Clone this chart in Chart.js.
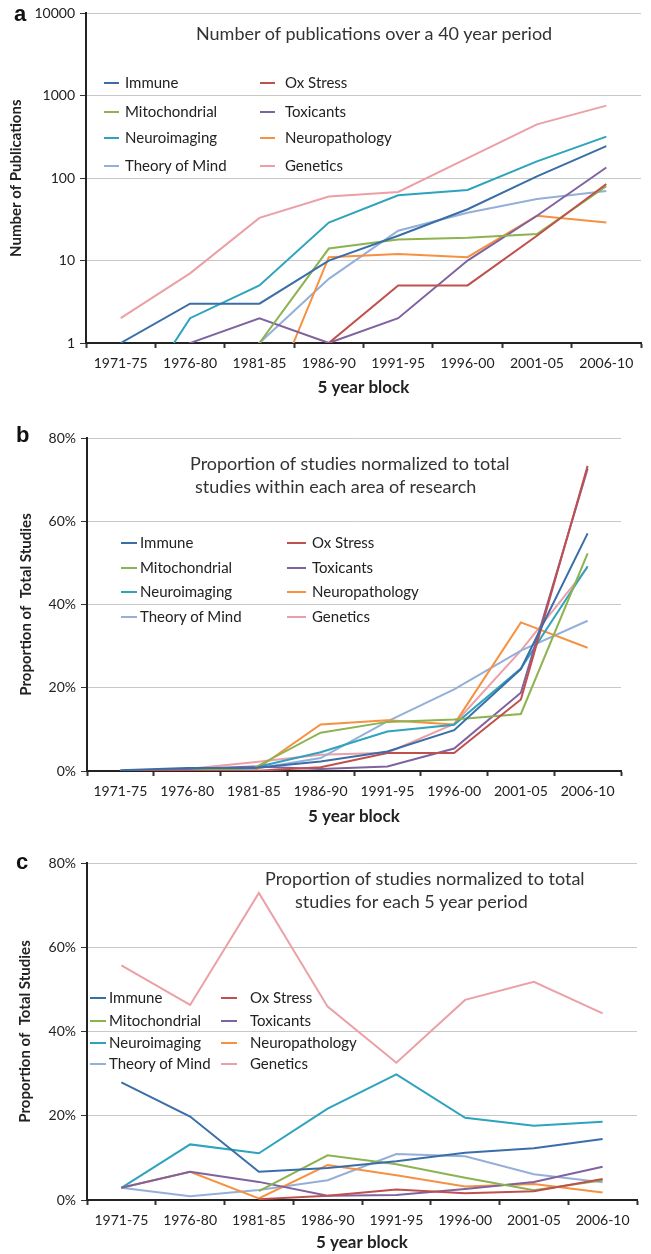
<!DOCTYPE html>
<html>
<head>
<meta charset="utf-8">
<script src="https://cdn.jsdelivr.net/npm/chart.js@4.4.1/dist/chart.umd.min.js"></script>
<style>
  body { margin: 0; background: #fff; }
  #page { position: relative; width: 651px; height: 1254px; overflow: hidden; font-family: Lato, "Open Sans", sans-serif; color: #333; }
  canvas { position: absolute; left: 0; }
  .letter { position: absolute; font: bold 22px "Liberation Sans", Arial, sans-serif; color: #111; line-height: 1; }
  .title { position: absolute; font-size: 18px; white-space: pre; line-height: 1; color: #333; }
  .item { position: absolute; white-space: nowrap; font-size: 15px; line-height: 1; color: #222; }
  .mark { position: absolute; height: 2px; }
</style>
</head>
<body>
<div id="page">
  <canvas id="chartA" width="651" height="400" style="top:0"></canvas>
  <canvas id="chartB" width="651" height="430" style="top:400px"></canvas>
  <canvas id="chartC" width="651" height="424" style="top:830px"></canvas>
</div>
<script>
// categories (5 year blocks)
const blocks = ["1971-75", "1976-80", "1981-85", "1986-90", "1991-95", "1996-00", "2001-05", "2006-10"];
const names = ["Immune", "Ox Stress", "Mitochondrial", "Toxicants", "Neuroimaging", "Neuropathology", "Theory of Mind", "Genetics"];
const colors = ["#3a6ea8", "#c0504d", "#8db350", "#7f62a0", "#2ea3bd", "#f59140", "#94afd8", "#eba0a6"];

// a - number of publications (log scale)
const immuneA = [1, 3, 3, 10, 20, 42, 105, 245];
const oxStressA = [0, 0, 0, 1, 5, 5, 20, 85];
const mitoA = [0, 0, 1, 14, 18, 19, 21, 80];
const toxicantsA = [0, 1, 2, 1, 2, 10, 35, 135];
const neuroimagingA = [0, 2, 5, 29, 62, 72, 160, 320];
const neuropathA = [0, 0, 0, 11, 12, 11, 35, 29];
const theoryA = [0, 0, 1, 6, 23, 38, 56, 70];
const geneticsA = [2, 7, 33, 60, 68, 175, 450, 760];
const logTicks = [1, 10, 100, 1000, 10000];

// b - % of studies within each area
const immuneB = [0.2, 0.7, 0.7, 2.3, 4.7, 9.8, 24.5, 57.1];
const oxStressB = [0, 0, 0, 0.9, 4.3, 4.3, 17.2, 73.3];
const mitoB = [0, 0, 0.7, 9.2, 11.8, 12.4, 13.7, 52.3];
const toxicantsB = [0, 0.5, 1.1, 0.5, 1.1, 5.4, 18.8, 72.6];
const neuroimagingB = [0, 0.3, 0.8, 4.5, 9.5, 11.1, 24.6, 49.2];
const neuropathB = [0, 0, 0, 11.2, 12.2, 11.2, 35.7, 29.6];
const theoryB = [0, 0, 0.5, 3.1, 11.9, 19.6, 28.9, 36.1];
const geneticsB = [0.1, 0.5, 2.1, 3.9, 4.4, 11.3, 28.9, 48.9];

// c - % of studies for each 5 year period
const immuneC = [27.9, 19.8, 6.7, 7.6, 9.2, 11.2, 12.3, 14.5];
const oxStressC = [null, null, 0.2, 1.0, 2.5, 1.6, 2.1, 5.0];
const mitoC = [null, null, 2.1, 10.6, 8.5, 5.3, 2.3, 4.7];
const toxicantsC = [2.9, 6.7, 4.3, 1.0, 1.2, 2.6, 4.3, 7.9];
const neuroimagingC = [2.9, 13.2, 11.1, 21.7, 29.8, 19.5, 17.6, 18.6];
const neuropathC = [2.9, 6.7, 0.4, 8.3, 5.9, 3.2, 3.8, 1.8];
const theoryC = [2.9, 0.9, 2.4, 4.7, 10.9, 10.4, 6.1, 4.2];
const geneticsC = [55.7, 46.3, 72.9, 45.9, 32.6, 47.5, 51.8, 44.3];
const pctTicks = [0, 20, 40, 60, 80];

// zero counts can't sit on a log axis, push them under the axis like excel does
const LOG_FLOOR = 0.1;

function datasets(series) {
  return series.map(function (vals, i) {
    return {
      label: names[i],
      data: vals,
      borderColor: colors[i],
      backgroundColor: colors[i],
      borderWidth: 2,
      pointRadius: 0,
      tension: 0,
    };
  });
}

const tickFont = { family: "Lato", size: 14 };
const axisTitleFont = { family: "Lato", size: 15, weight: "bold" };

function makeChart(id, series, yScale, box) {
  return new Chart(document.getElementById(id), {
    type: "line",
    data: { labels: blocks, datasets: datasets(series) },
    options: {
      responsive: false,
      animation: false,
      layout: { padding: { top: box.top, right: 651 - box.right, left: 0, bottom: 0 } },
      plugins: { legend: { display: false }, tooltip: { enabled: false } },
      scales: {
        x: {
          offset: true,
          grid: { offset: true, drawOnChartArea: false, tickLength: 5, tickColor: "#333", tickWidth: 2 },
          border: { color: "#222", width: 2 },
          ticks: { color: "#222", font: tickFont, padding: 7, maxRotation: 0, autoSkip: false },
          title: { display: true, text: "5 year block", color: "#222", font: { family: "Lato", size: 17, weight: "bold" }, padding: { top: 0, bottom: box.xTitlePad } },
          afterFit: function (s) { s.height = box.canvasH - box.bottom; },
        },
        y: Object.assign(yScale, {
          grid: { color: "#c8c8c8", lineWidth: 1, tickLength: 6, tickColor: "#333", tickWidth: 1 },
          border: { color: "#222", width: 2 },
          title: { display: true, text: box.yTitle, color: "#222", font: axisTitleFont, padding: { top: box.yTitlePad, bottom: 0 } },
          afterFit: function (s) { s.width = box.left; },
        }),
      },
    },
  });
}

// a
makeChart("chartA",
  [immuneA, oxStressA, mitoA, toxicantsA, neuroimagingA, neuropathA, theoryA, geneticsA].map(function (s) {
    return s.map(function (v) { return v === 0 ? LOG_FLOOR : v; });
  }),
  {
    type: "logarithmic", min: 1, max: 10000,
    afterBuildTicks: function (s) { s.ticks = logTicks.map(function (v) { return { value: v }; }); },
    ticks: { color: "#222", font: tickFont, padding: 5, callback: function (v) { return String(v); } },
  },
  { top: 13, right: 641, left: 86, bottom: 343, canvasH: 400, xTitlePad: 2, yTitle: "Number of Publications", yTitlePad: 7 });

function pctAxis() {
  return {
    min: 0, max: 80,
    afterBuildTicks: function (s) { s.ticks = pctTicks.map(function (v) { return { value: v }; }); },
    ticks: { color: "#222", font: tickFont, padding: 5, callback: function (v) { return v + "%"; } },
  };
}

// b
makeChart("chartB",
  [immuneB, oxStressB, mitoB, toxicantsB, neuroimagingB, neuropathB, theoryB, geneticsB],
  pctAxis(),
  { top: 38, right: 621, left: 87, bottom: 371, canvasH: 430, xTitlePad: 3, yTitle: "Proportion of  Total Studies", yTitlePad: 17 });

// c
makeChart("chartC",
  [immuneC, oxStressC, mitoC, toxicantsC, neuroimagingC, neuropathC, theoryC, geneticsC],
  pctAxis(),
  { top: 33, right: 637, left: 87, bottom: 370, canvasH: 424, xTitlePad: 1, yTitle: "Proportion of  Total Studies", yTitlePad: 16 });

// titles, panel letters and legends as page text
const page = document.getElementById("page");

function addText(cls, text, x, y, extra) {
  const d = document.createElement("div");
  d.className = cls;
  d.textContent = text;
  d.style.left = x + "px";
  d.style.top = y + "px";
  if (extra) Object.assign(d.style, extra);
  page.appendChild(d);
  return d;
}

addText("letter", "a", 14, 3);
addText("letter", "b", 16, 424);
addText("letter", "c", 16, 851);

addText("title", "Number of publications over a 40 year period", 196, 24);
addText("title", "Proportion of studies normalized to total", 190, 454);
addText("title", "studies within each area of research", 195, 477);
addText("title", "Proportion of studies normalized to total", 265, 869);
addText("title", "studies for each 5 year period", 295, 892);

// legend order: left column then right column, row by row
const legendRows = [[0, 1], [2, 3], [4, 5], [6, 7]];
function legend(rowsY, cols) {
  legendRows.forEach(function (row, r) {
    row.forEach(function (idx, c) {
      const col = cols[c];
      const m = document.createElement("div");
      m.className = "mark";
      m.style.left = col.m0 + "px";
      m.style.width = (col.m1 - col.m0) + "px";
      m.style.top = (rowsY[r] - 1) + "px";
      m.style.background = colors[idx];
      page.appendChild(m);
      addText("item", names[idx], col.t, rowsY[r] - 8);
    });
  });
}

legend([83, 112, 138, 166], [{ m0: 104, m1: 119, t: 125 }, { m0: 260, m1: 275, t: 285 }]);
legend([543, 568, 592, 617], [{ m0: 121, m1: 137, t: 140 }, { m0: 287, m1: 306, t: 312 }]);
legend([998, 1021, 1043, 1064], [{ m0: 90, m1: 106, t: 109 }, { m0: 221, m1: 237, t: 250 }]);
</script>
</body>
</html>
